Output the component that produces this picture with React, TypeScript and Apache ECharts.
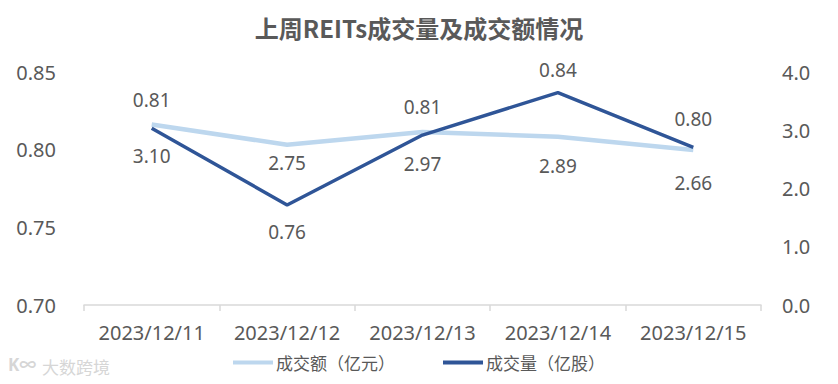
import React, { useEffect, useRef } from "react";
import * as echarts from "echarts";

const titleText = "上周REITs成交量及成交额情况";
const categories = ["2023/12/11", "2023/12/12", "2023/12/13", "2023/12/14", "2023/12/15"];
const amountName = "成交额（亿元）";
const volumeName = "成交量（亿股）";
const amountValues = [3.1, 2.75, 2.97, 2.89, 2.66];
const volumeValues = [0.8138, 0.7644, 0.8094, 0.8367, 0.8015];
const leftTicks = { min: 0.7, max: 0.85, interval: 0.05 };
const rightTicks = { min: 0, max: 4, interval: 1 };

// label placement styles (not data)
const volumeLabelPos = [
  ["top", 19],
  ["bottom", 18],
  ["top", 19],
  ["top", 13],
  ["top", 19],
];
const amountLabelPos = [
  ["bottom", 22],
  ["bottom", 9],
  ["bottom", 22],
  ["bottom", 20],
  ["bottom", 23],
];

const FONT = "'Noto Sans', 'Noto Sans CJK SC', sans-serif";
const TEXT = "#595959";

export default function App() {
  const ref = useRef<HTMLDivElement>(null);
  useEffect(() => {
    if (!ref.current) return;
    const chart = echarts.init(ref.current, undefined, { renderer: "svg" });
    const mk = (vals: number[], pos: any[]) =>
      vals.map((v, i) => ({
        value: v,
        label: { position: pos[i][0], distance: pos[i][1] },
      }));
    chart.setOption({
      animation: false,
      backgroundColor: "#ffffff",
      textStyle: { fontFamily: FONT },
      title: {
        text: titleText,
        left: "center",
        top: 10,
        textStyle: { fontFamily: "'Noto Sans CJK SC', sans-serif", fontSize: 24, fontWeight: "bold", color: TEXT },
      },
      grid: { left: 84, right: 77, top: 72, bottom: 79 },
      legend: {
        bottom: 8,
        left: "center",
        itemGap: 48,
        itemWidth: 40,
        itemHeight: 4,
        icon: "rect",
        textStyle: { fontFamily: "'Noto Sans CJK SC', sans-serif", fontSize: 17, color: TEXT, padding: [0, 0, 0, -2] },
        data: [amountName, volumeName],
      },
      graphic: [
        {
          type: "text",
          left: 42,
          top: 358,
          style: { text: "大数跨境", fontSize: 17, fill: "#d6d6d6", fontFamily: "'Noto Sans CJK SC', sans-serif" },
        },
        {
          type: "text",
          left: 8,
          top: 356,
          style: { text: "K∞", fontSize: 17, fill: "#d6d6d6", fontFamily: FONT, fontWeight: "bold" },
        },
      ],
      xAxis: {
        type: "category",
        data: categories,
        boundaryGap: true,
        axisLine: { show: true, lineStyle: { color: "#d9d9d9", width: 1.5 } },
        axisTick: { show: true, interval: 0, length: 6, lineStyle: { color: "#d9d9d9", width: 1.5 } },
        axisLabel: { color: TEXT, fontSize: 20, margin: 17, interval: 0, hideOverlap: false, fontFamily: FONT },
      },
      yAxis: [
        {
          type: "value",
          min: leftTicks.min,
          max: leftTicks.max,
          interval: leftTicks.interval,
          splitLine: { show: false },
          axisLine: { show: false },
          axisTick: { show: false },
          axisLabel: { color: TEXT, fontSize: 20, margin: 28, fontFamily: FONT, formatter: (v: number) => v.toFixed(2) },
        },
        {
          type: "value",
          min: rightTicks.min,
          max: rightTicks.max,
          interval: rightTicks.interval,
          splitLine: { show: false },
          axisLine: { show: false },
          axisTick: { show: false },
          axisLabel: { color: TEXT, fontSize: 20, margin: 21, fontFamily: FONT, formatter: (v: number) => v.toFixed(1) },
        },
      ],
      series: [
        {
          name: amountName,
          type: "line",
          yAxisIndex: 1,
          data: mk(amountValues, amountLabelPos),
          symbol: "circle",
          symbolSize: 0,
          color: "#BDD7EE",
          lineStyle: { color: "#BDD7EE", width: 4.5 },
          itemStyle: { color: "#BDD7EE" },
          label: { show: true, color: TEXT, fontSize: 19, fontFamily: FONT, formatter: (p: any) => Number(p.value).toFixed(2) },
        },
        {
          name: volumeName,
          type: "line",
          yAxisIndex: 0,
          data: mk(volumeValues, volumeLabelPos),
          symbol: "circle",
          symbolSize: 0,
          color: "#2F5597",
          lineStyle: { color: "#2F5597", width: 3.5 },
          itemStyle: { color: "#2F5597" },
          label: { show: true, color: TEXT, fontSize: 19, fontFamily: FONT, formatter: (p: any) => Number(p.value).toFixed(2) },
        },
      ],
    });
    return () => chart.dispose();
  }, []);
  return <div ref={ref} style={{ width: 838, height: 384, position: "absolute", left: 0, top: 0 }} />;
}
